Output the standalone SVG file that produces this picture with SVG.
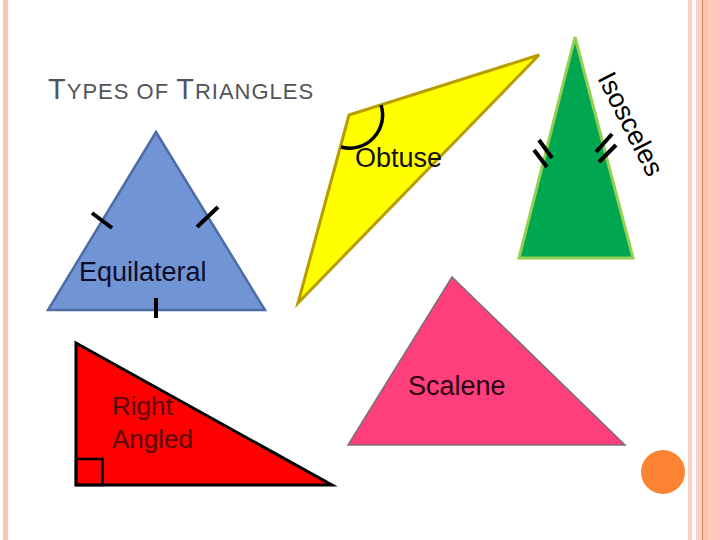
<svg xmlns="http://www.w3.org/2000/svg" width="720" height="540" viewBox="0 0 720 540">
<style>
text{font-family:"Liberation Sans",Arial,sans-serif}
.tick{stroke:#000;stroke-width:4;fill:none}
.lbl{font-size:26px}
</style>
<rect x="0" y="0" width="720" height="540" fill="#fff"/>
<g id="border">
<rect x="3" y="0" width="5" height="540" fill="#f8c8b6"/>
<rect x="688" y="0" width="4" height="540" fill="#f9d0c0"/>
<rect x="696" y="0" width="6" height="540" fill="#fbd2c2"/>
<rect x="702" y="0" width="1.5" height="540" fill="#d88a68"/>
<rect x="703.5" y="0" width="6" height="540" fill="#fcc4ac"/>
<rect x="709.5" y="0" width="10.5" height="540" fill="#ffc9b9"/>
</g>
<g id="title">
<text x="48" y="99" fill="#50545a" font-size="22" letter-spacing="1"><tspan font-size="29">T</tspan>YPES OF <tspan font-size="29">T</tspan>RIANGLES</text>
</g>
<g id="obtuse">
<polygon points="349,115 539,55 298,303" fill="#ffff00" stroke="#b89c00" stroke-width="3" stroke-linejoin="miter"/>
<path d="M381,105 A33,33 0 0 1 341,147" fill="none" stroke="#000" stroke-width="3.5"/>
<text x="355" y="167" font-size="27" fill="#111">Obtuse</text>
</g>
<g id="isosceles">
<polygon points="575,37 633,258 519,258" fill="#00a650" stroke="#92d050" stroke-width="3"/>
<line class="tick" x1="539" y1="140" x2="552" y2="158"/>
<line class="tick" x1="534" y1="150" x2="547" y2="167"/>
<line class="tick" x1="596" y1="152" x2="612" y2="134"/>
<line class="tick" x1="599" y1="162" x2="616" y2="145"/>
<text transform="translate(597,78) rotate(63)" font-size="27" fill="#000">Isosceles</text>
</g>
<g id="equilateral">
<polygon points="156,132 265,310 48,310" fill="#7094d4" stroke="#4e6ca5" stroke-width="2.5"/>
<line class="tick" x1="92" y1="213" x2="112" y2="228"/>
<line class="tick" x1="197" y1="227" x2="218" y2="207"/>
<line class="tick" x1="156" y1="298" x2="156" y2="318"/>
<text x="79" y="281" font-size="27" fill="#0d0d2a">Equilateral</text>
</g>
<g id="right">
<polygon points="76,343 332,485 76,485" fill="#ff0000" stroke="#000" stroke-width="3"/>
<rect x="76" y="459" width="26.5" height="26" fill="none" stroke="#000" stroke-width="2.5"/>
<text x="112" y="415" class="lbl" fill="#5a0808">Right</text>
<text x="112" y="448" class="lbl" fill="#5a0808">Angled</text>
</g>
<g id="scalene">
<polygon points="452,277 625,445 348,445" fill="#ff3f7c" stroke="#7a7070" stroke-width="1.5"/>
<text x="408" y="395" font-size="27" fill="#2a0010">Scalene</text>
</g>
<circle cx="663" cy="472" r="22" fill="#fd8432"/>
</svg>
